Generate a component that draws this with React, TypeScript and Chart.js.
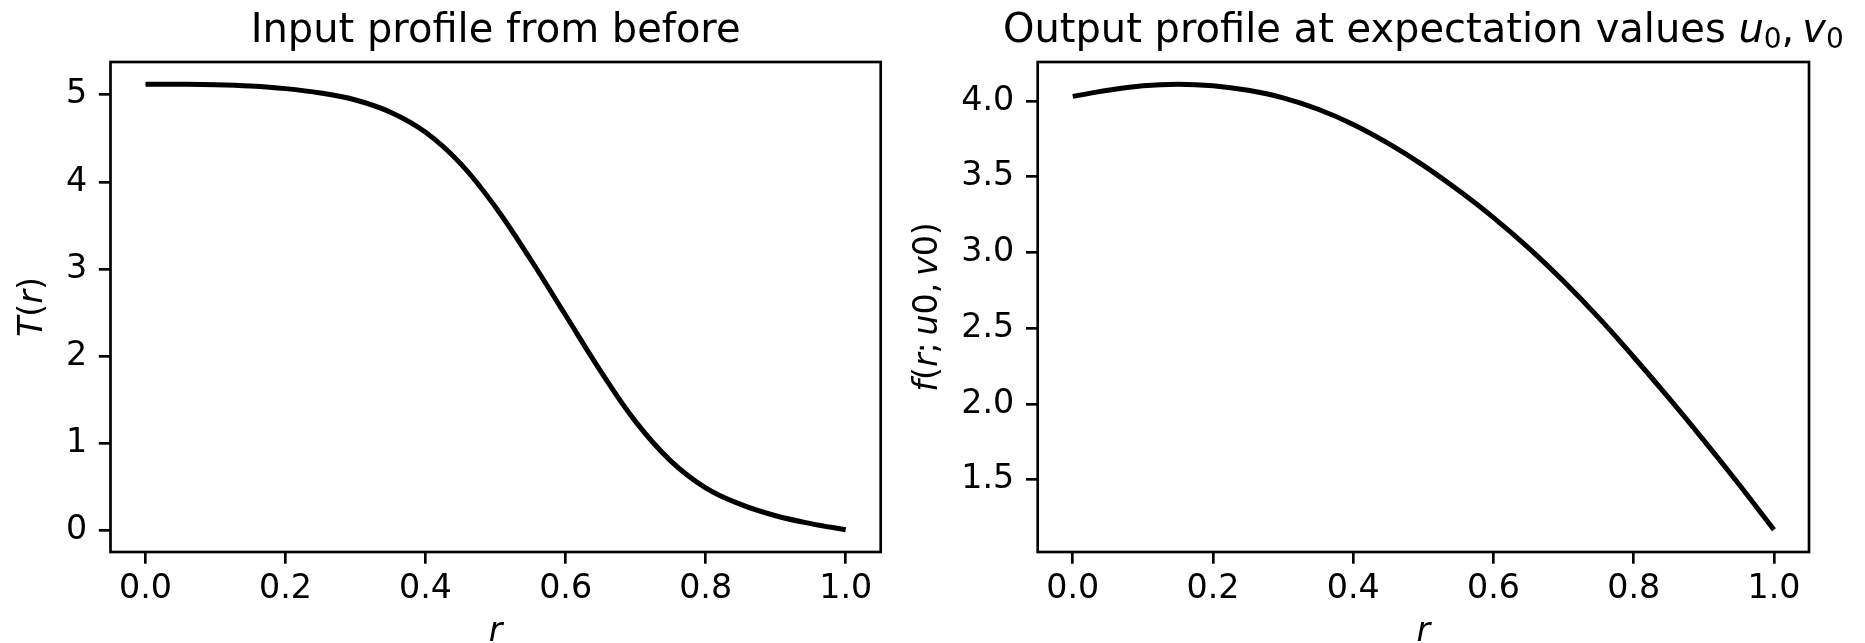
import React, { useEffect, useRef } from "react";
import { Chart, registerables } from "chart.js";

Chart.register(...registerables);

// ---------- data ----------
const rValues = [0, 0.05, 0.1, 0.15, 0.2, 0.25, 0.3, 0.35, 0.4, 0.45, 0.5, 0.55, 0.6, 0.65, 0.7, 0.75, 0.8, 0.85, 0.9, 0.95, 1.0];
const inputProfile = [5.12, 5.12, 5.115, 5.1, 5.07, 5.02, 4.94, 4.8, 4.57, 4.21, 3.71, 3.11, 2.47, 1.83, 1.25, 0.8, 0.49, 0.3, 0.17, 0.08, 0.01];
const outputProfile = [4.03, 4.07, 4.1, 4.11, 4.1, 4.07, 4.02, 3.945, 3.845, 3.72, 3.575, 3.41, 3.23, 3.03, 2.81, 2.57, 2.31, 2.04, 1.76, 1.47, 1.17];
const xTickValues = [0, 0.2, 0.4, 0.6, 0.8, 1.0];
const inputYTicks = [0, 1, 2, 3, 4, 5];
const outputYTicks = [1.5, 2.0, 2.5, 3.0, 3.5, 4.0];

type Seg = { t: string; it?: boolean; sub?: boolean };
const leftTitle: Seg[] = [{ t: "Input profile from before" }];
const rightTitle: Seg[] = [
  { t: "Output profile at expectation values " },
  { t: "u", it: true },
  { t: "0", sub: true },
  { t: ",\u2009" },
  { t: "v", it: true },
  { t: "0", sub: true },
];
const xLabel: Seg[] = [{ t: "r", it: true }];
const leftYLabel: Seg[] = [{ t: "T", it: true }, { t: "(" }, { t: "r", it: true }, { t: ")" }];
const rightYLabel: Seg[] = [
  { t: "f", it: true },
  { t: "(" },
  { t: "r", it: true },
  { t: ";\u2009" },
  { t: "u", it: true },
  { t: "0,\u2009" },
  { t: "v", it: true },
  { t: "0)" },
];

// ---------- style ----------
const FONT = '"DejaVu Sans"';
const TICK_SIZE = 33.3;
const TITLE_SIZE = 40;
const LABEL_SIZE = 33.3;
const LW_AXES = 2.67;
const TICK_LEN = 11.7;

function segFont(s: Seg, size: number) {
  return `${s.it ? "italic " : ""}${s.sub ? size * 0.7 : size}px ${FONT}`;
}

function drawRich(ctx: CanvasRenderingContext2D, segs: Seg[], size: number, x: number, y: number, rot: number) {
  ctx.save();
  ctx.translate(x, y);
  ctx.rotate(rot);
  ctx.textBaseline = "alphabetic";
  ctx.textAlign = "left";
  ctx.fillStyle = "#000";
  let total = 0;
  const widths: number[] = [];
  for (const s of segs) {
    ctx.font = segFont(s, size);
    const w = ctx.measureText(s.t).width;
    widths.push(w);
    total += w;
  }
  let cx = -total / 2;
  segs.forEach((s, i) => {
    ctx.font = segFont(s, size);
    ctx.fillText(s.t, cx, s.sub ? size * 0.15 : 0);
    cx += widths[i];
  });
  ctx.restore();
}

function makePlugin(title: Seg[], yLabel: Seg[], yLabelX: number) {
  return {
    id: "richLabels",
    afterDatasetsDraw(chart: any) {
      const { ctx, chartArea } = chart;
      ctx.save();
      ctx.strokeStyle = "#000";
      ctx.lineWidth = LW_AXES;
      ctx.strokeRect(chartArea.left, chartArea.top, chartArea.right - chartArea.left, chartArea.bottom - chartArea.top);
      ctx.restore();
    },
    afterDraw(chart: any) {
      const { ctx, chartArea } = chart;
      const cx = (chartArea.left + chartArea.right) / 2;
      const cy = (chartArea.top + chartArea.bottom) / 2;
      drawRich(ctx, title, TITLE_SIZE, cx, 42, 0);
      drawRich(ctx, xLabel, LABEL_SIZE, cx, 641, 0);
      drawRich(ctx, yLabel, LABEL_SIZE, yLabelX, cy, -Math.PI / 2);
    },
  };
}

function limits(vals: number[]) {
  const mn = Math.min(...vals);
  const mx = Math.max(...vals);
  const m = (mx - mn) * 0.05;
  return [mn - m, mx + m];
}

function makeConfig(ys: number[], yTicks: number[], yDecimals: number, yWidth: number, padRight: number, plugin: any) {
  const [xMin, xMax] = limits(rValues);
  const [yMin, yMax] = limits(ys);
  const grid = {
    drawOnChartArea: false,
    drawTicks: true,
    tickLength: TICK_LEN,
    tickWidth: LW_AXES,
    tickColor: "#000",
    lineWidth: LW_AXES,
    color: "#000",
  };
  const tickFont = { family: FONT, size: TICK_SIZE };
  return {
    type: "line",
    data: {
      datasets: [
        {
          data: rValues.map((r, i) => ({ x: r, y: ys[i] })),
          borderColor: "#000",
          borderWidth: 5,
          pointRadius: 0,
          tension: 0.4,
          fill: false,
        },
      ],
    },
    options: {
      animation: false,
      responsive: false,
      maintainAspectRatio: false,
      events: [],
      layout: { padding: { left: 0, right: padRight, top: 62, bottom: 0 } },
      plugins: { legend: { display: false }, tooltip: { enabled: false }, title: { display: false } },
      scales: {
        x: {
          type: "linear",
          min: xMin,
          max: xMax,
          afterBuildTicks: (s: any) => {
            s.ticks = xTickValues.map((v) => ({ value: v }));
          },
          afterFit: (s: any) => {
            s.height = 91;
          },
          border: { display: false },
          grid,
          ticks: {
            font: tickFont,
            color: "#000",
            padding: 5.3,
            maxRotation: 0,
            autoSkip: false,
            callback: (v: any) => Number(v).toFixed(1),
          },
        },
        y: {
          type: "linear",
          min: yMin,
          max: yMax,
          afterBuildTicks: (s: any) => {
            s.ticks = yTicks.map((v) => ({ value: v }));
          },
          afterFit: (s: any) => {
            s.width = yWidth;
          },
          border: { display: false },
          grid,
          ticks: {
            font: tickFont,
            color: "#000",
            padding: TICK_LEN,
            autoSkip: false,
            callback: (v: any) => Number(v).toFixed(yDecimals),
          },
        },
      },
    },
    plugins: [plugin],
  };
}

export default function App() {
  const leftRef = useRef<HTMLCanvasElement>(null);
  const rightRef = useRef<HTMLCanvasElement>(null);

  useEffect(() => {
    document.body.style.margin = "0";
    const c1 = new Chart(
      leftRef.current as HTMLCanvasElement,
      makeConfig(inputProfile, inputYTicks, 0, 110.5, 19.3, makePlugin(leftTitle, leftYLabel, 41.5)) as any
    );
    const c2 = new Chart(
      rightRef.current as HTMLCanvasElement,
      makeConfig(outputProfile, outputYTicks, 1, 137.7, 56, makePlugin(rightTitle, rightYLabel, 36.7)) as any
    );
    return () => {
      c1.destroy();
      c2.destroy();
    };
  }, []);

  return (
    <div style={{ position: "fixed", left: 0, top: 0, width: 1865, height: 643, background: "#fff", overflow: "hidden" }}>
      <canvas ref={leftRef} width={900} height={643} style={{ position: "absolute", left: 0, top: 0, width: 900, height: 643 }} />
      <canvas ref={rightRef} width={965} height={643} style={{ position: "absolute", left: 900, top: 0, width: 965, height: 643 }} />
    </div>
  );
}
